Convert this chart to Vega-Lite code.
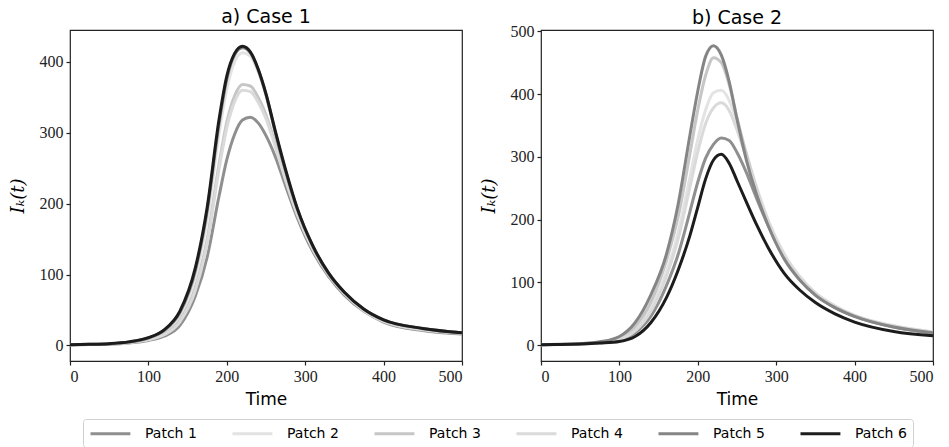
{
  "$schema": "https://vega.github.io/schema/vega-lite/v6.json",
  "padding": {"left": 8, "top": 7, "right": 10, "bottom": 0},
  "background": "white",
  "config": {
    "view": {"stroke": "#222222", "strokeWidth": 1.2},
    "axis": {"grid": false, "domain": false, "labelFont": "Liberation Serif", "labelFontSize": 16, "labelColor": "#222", "tickColor": "#222", "tickSize": 4, "tickWidth": 1.2, "labelPadding": 3, "titleFont": "DejaVu Sans", "titleFontWeight": "normal", "titleColor": "black"},
    "title": {"font": "DejaVu Sans", "fontSize": 19, "fontWeight": "normal", "color": "black"},
    "legend": {"labelFont": "DejaVu Sans", "labelFontSize": 14, "labelColor": "black"}
  },
  "data": {"values": [
    {"c":1,"p":"Patch 1","t":0,"v":1},{"c":1,"p":"Patch 1","t":25,"v":1.2},{"c":1,"p":"Patch 1","t":50,"v":1.8},{"c":1,"p":"Patch 1","t":75,"v":3.5},{"c":1,"p":"Patch 1","t":100,"v":7},{"c":1,"p":"Patch 1","t":120,"v":13},{"c":1,"p":"Patch 1","t":140,"v":28},{"c":1,"p":"Patch 1","t":160,"v":70},{"c":1,"p":"Patch 1","t":175,"v":125},{"c":1,"p":"Patch 1","t":190,"v":210},{"c":1,"p":"Patch 1","t":200,"v":262},{"c":1,"p":"Patch 1","t":210,"v":298},{"c":1,"p":"Patch 1","t":220,"v":318},{"c":1,"p":"Patch 1","t":230,"v":322},{"c":1,"p":"Patch 1","t":240,"v":314},{"c":1,"p":"Patch 1","t":250,"v":296},{"c":1,"p":"Patch 1","t":262,"v":266},{"c":1,"p":"Patch 1","t":275,"v":225},{"c":1,"p":"Patch 1","t":290,"v":180},{"c":1,"p":"Patch 1","t":310,"v":132},{"c":1,"p":"Patch 1","t":330,"v":97},{"c":1,"p":"Patch 1","t":350,"v":71},{"c":1,"p":"Patch 1","t":375,"v":48},{"c":1,"p":"Patch 1","t":400,"v":33},{"c":1,"p":"Patch 1","t":450,"v":21},{"c":1,"p":"Patch 1","t":500,"v":16},
    {"c":1,"p":"Patch 2","t":0,"v":1},{"c":1,"p":"Patch 2","t":25,"v":1.4},{"c":1,"p":"Patch 2","t":50,"v":2.3},{"c":1,"p":"Patch 2","t":75,"v":4.5},{"c":1,"p":"Patch 2","t":100,"v":10},{"c":1,"p":"Patch 2","t":120,"v":19},{"c":1,"p":"Patch 2","t":140,"v":42},{"c":1,"p":"Patch 2","t":160,"v":98},{"c":1,"p":"Patch 2","t":175,"v":178},{"c":1,"p":"Patch 2","t":190,"v":298},{"c":1,"p":"Patch 2","t":200,"v":362},{"c":1,"p":"Patch 2","t":210,"v":400},{"c":1,"p":"Patch 2","t":220,"v":413},{"c":1,"p":"Patch 2","t":230,"v":408},{"c":1,"p":"Patch 2","t":240,"v":386},{"c":1,"p":"Patch 2","t":250,"v":352},{"c":1,"p":"Patch 2","t":262,"v":300},{"c":1,"p":"Patch 2","t":275,"v":245},{"c":1,"p":"Patch 2","t":290,"v":191},{"c":1,"p":"Patch 2","t":310,"v":139},{"c":1,"p":"Patch 2","t":330,"v":101},{"c":1,"p":"Patch 2","t":350,"v":74},{"c":1,"p":"Patch 2","t":375,"v":50},{"c":1,"p":"Patch 2","t":400,"v":35},{"c":1,"p":"Patch 2","t":450,"v":23},{"c":1,"p":"Patch 2","t":500,"v":18},
    {"c":1,"p":"Patch 3","t":0,"v":1},{"c":1,"p":"Patch 3","t":25,"v":1.3},{"c":1,"p":"Patch 3","t":50,"v":2},{"c":1,"p":"Patch 3","t":75,"v":4},{"c":1,"p":"Patch 3","t":100,"v":8.5},{"c":1,"p":"Patch 3","t":120,"v":16},{"c":1,"p":"Patch 3","t":140,"v":35},{"c":1,"p":"Patch 3","t":160,"v":82},{"c":1,"p":"Patch 3","t":175,"v":150},{"c":1,"p":"Patch 3","t":190,"v":255},{"c":1,"p":"Patch 3","t":200,"v":315},{"c":1,"p":"Patch 3","t":210,"v":352},{"c":1,"p":"Patch 3","t":220,"v":368},{"c":1,"p":"Patch 3","t":230,"v":366},{"c":1,"p":"Patch 3","t":240,"v":350},{"c":1,"p":"Patch 3","t":250,"v":325},{"c":1,"p":"Patch 3","t":262,"v":284},{"c":1,"p":"Patch 3","t":275,"v":236},{"c":1,"p":"Patch 3","t":290,"v":186},{"c":1,"p":"Patch 3","t":310,"v":136},{"c":1,"p":"Patch 3","t":330,"v":100},{"c":1,"p":"Patch 3","t":350,"v":74},{"c":1,"p":"Patch 3","t":375,"v":50},{"c":1,"p":"Patch 3","t":400,"v":35},{"c":1,"p":"Patch 3","t":450,"v":23},{"c":1,"p":"Patch 3","t":500,"v":18},
    {"c":1,"p":"Patch 4","t":0,"v":1},{"c":1,"p":"Patch 4","t":25,"v":1.3},{"c":1,"p":"Patch 4","t":50,"v":2},{"c":1,"p":"Patch 4","t":75,"v":4},{"c":1,"p":"Patch 4","t":100,"v":8},{"c":1,"p":"Patch 4","t":120,"v":15},{"c":1,"p":"Patch 4","t":140,"v":33},{"c":1,"p":"Patch 4","t":160,"v":78},{"c":1,"p":"Patch 4","t":175,"v":144},{"c":1,"p":"Patch 4","t":190,"v":248},{"c":1,"p":"Patch 4","t":200,"v":307},{"c":1,"p":"Patch 4","t":210,"v":344},{"c":1,"p":"Patch 4","t":220,"v":360},{"c":1,"p":"Patch 4","t":230,"v":358},{"c":1,"p":"Patch 4","t":240,"v":343},{"c":1,"p":"Patch 4","t":250,"v":320},{"c":1,"p":"Patch 4","t":262,"v":280},{"c":1,"p":"Patch 4","t":275,"v":233},{"c":1,"p":"Patch 4","t":290,"v":184},{"c":1,"p":"Patch 4","t":310,"v":135},{"c":1,"p":"Patch 4","t":330,"v":99},{"c":1,"p":"Patch 4","t":350,"v":73},{"c":1,"p":"Patch 4","t":375,"v":49},{"c":1,"p":"Patch 4","t":400,"v":34},{"c":1,"p":"Patch 4","t":450,"v":22},{"c":1,"p":"Patch 4","t":500,"v":17},
    {"c":1,"p":"Patch 5","t":0,"v":1},{"c":1,"p":"Patch 5","t":25,"v":1.5},{"c":1,"p":"Patch 5","t":50,"v":2.4},{"c":1,"p":"Patch 5","t":75,"v":4.8},{"c":1,"p":"Patch 5","t":100,"v":10.5},{"c":1,"p":"Patch 5","t":120,"v":21},{"c":1,"p":"Patch 5","t":140,"v":46},{"c":1,"p":"Patch 5","t":160,"v":106},{"c":1,"p":"Patch 5","t":175,"v":190},{"c":1,"p":"Patch 5","t":190,"v":312},{"c":1,"p":"Patch 5","t":200,"v":376},{"c":1,"p":"Patch 5","t":210,"v":410},{"c":1,"p":"Patch 5","t":220,"v":420},{"c":1,"p":"Patch 5","t":230,"v":413},{"c":1,"p":"Patch 5","t":240,"v":389},{"c":1,"p":"Patch 5","t":250,"v":354},{"c":1,"p":"Patch 5","t":262,"v":300},{"c":1,"p":"Patch 5","t":275,"v":246},{"c":1,"p":"Patch 5","t":290,"v":192},{"c":1,"p":"Patch 5","t":310,"v":139},{"c":1,"p":"Patch 5","t":330,"v":101},{"c":1,"p":"Patch 5","t":350,"v":75},{"c":1,"p":"Patch 5","t":375,"v":51},{"c":1,"p":"Patch 5","t":400,"v":36},{"c":1,"p":"Patch 5","t":450,"v":24},{"c":1,"p":"Patch 5","t":500,"v":18},
    {"c":1,"p":"Patch 6","t":0,"v":1},{"c":1,"p":"Patch 6","t":25,"v":1.5},{"c":1,"p":"Patch 6","t":50,"v":2.5},{"c":1,"p":"Patch 6","t":75,"v":5},{"c":1,"p":"Patch 6","t":100,"v":11},{"c":1,"p":"Patch 6","t":120,"v":22},{"c":1,"p":"Patch 6","t":140,"v":48},{"c":1,"p":"Patch 6","t":160,"v":110},{"c":1,"p":"Patch 6","t":175,"v":195},{"c":1,"p":"Patch 6","t":190,"v":318},{"c":1,"p":"Patch 6","t":200,"v":380},{"c":1,"p":"Patch 6","t":210,"v":412},{"c":1,"p":"Patch 6","t":220,"v":422},{"c":1,"p":"Patch 6","t":230,"v":414},{"c":1,"p":"Patch 6","t":240,"v":390},{"c":1,"p":"Patch 6","t":250,"v":355},{"c":1,"p":"Patch 6","t":262,"v":302},{"c":1,"p":"Patch 6","t":275,"v":248},{"c":1,"p":"Patch 6","t":290,"v":193},{"c":1,"p":"Patch 6","t":310,"v":140},{"c":1,"p":"Patch 6","t":330,"v":102},{"c":1,"p":"Patch 6","t":350,"v":75},{"c":1,"p":"Patch 6","t":375,"v":51},{"c":1,"p":"Patch 6","t":400,"v":36},{"c":1,"p":"Patch 6","t":450,"v":24},{"c":1,"p":"Patch 6","t":500,"v":18},
    {"c":2,"p":"Patch 1","t":0,"v":1},{"c":2,"p":"Patch 1","t":25,"v":1.2},{"c":2,"p":"Patch 1","t":50,"v":2},{"c":2,"p":"Patch 1","t":75,"v":4},{"c":2,"p":"Patch 1","t":100,"v":8.5},{"c":2,"p":"Patch 1","t":120,"v":20},{"c":2,"p":"Patch 1","t":140,"v":46},{"c":2,"p":"Patch 1","t":160,"v":95},{"c":2,"p":"Patch 1","t":175,"v":145},{"c":2,"p":"Patch 1","t":190,"v":213},{"c":2,"p":"Patch 1","t":200,"v":260},{"c":2,"p":"Patch 1","t":210,"v":298},{"c":2,"p":"Patch 1","t":220,"v":320},{"c":2,"p":"Patch 1","t":230,"v":330},{"c":2,"p":"Patch 1","t":240,"v":326},{"c":2,"p":"Patch 1","t":250,"v":307},{"c":2,"p":"Patch 1","t":262,"v":275},{"c":2,"p":"Patch 1","t":275,"v":234},{"c":2,"p":"Patch 1","t":290,"v":190},{"c":2,"p":"Patch 1","t":310,"v":140},{"c":2,"p":"Patch 1","t":330,"v":105},{"c":2,"p":"Patch 1","t":350,"v":80},{"c":2,"p":"Patch 1","t":375,"v":60},{"c":2,"p":"Patch 1","t":400,"v":46},{"c":2,"p":"Patch 1","t":450,"v":29},{"c":2,"p":"Patch 1","t":500,"v":19},
    {"c":2,"p":"Patch 2","t":0,"v":1},{"c":2,"p":"Patch 2","t":25,"v":1.3},{"c":2,"p":"Patch 2","t":50,"v":2.2},{"c":2,"p":"Patch 2","t":75,"v":4.5},{"c":2,"p":"Patch 2","t":100,"v":10},{"c":2,"p":"Patch 2","t":120,"v":25},{"c":2,"p":"Patch 2","t":140,"v":58},{"c":2,"p":"Patch 2","t":160,"v":117},{"c":2,"p":"Patch 2","t":175,"v":180},{"c":2,"p":"Patch 2","t":190,"v":268},{"c":2,"p":"Patch 2","t":200,"v":328},{"c":2,"p":"Patch 2","t":210,"v":375},{"c":2,"p":"Patch 2","t":220,"v":402},{"c":2,"p":"Patch 2","t":230,"v":406},{"c":2,"p":"Patch 2","t":240,"v":390},{"c":2,"p":"Patch 2","t":250,"v":355},{"c":2,"p":"Patch 2","t":262,"v":306},{"c":2,"p":"Patch 2","t":275,"v":252},{"c":2,"p":"Patch 2","t":290,"v":199},{"c":2,"p":"Patch 2","t":310,"v":146},{"c":2,"p":"Patch 2","t":330,"v":110},{"c":2,"p":"Patch 2","t":350,"v":84},{"c":2,"p":"Patch 2","t":375,"v":63},{"c":2,"p":"Patch 2","t":400,"v":48},{"c":2,"p":"Patch 2","t":450,"v":31},{"c":2,"p":"Patch 2","t":500,"v":21},
    {"c":2,"p":"Patch 3","t":0,"v":1},{"c":2,"p":"Patch 3","t":25,"v":1.4},{"c":2,"p":"Patch 3","t":50,"v":2.3},{"c":2,"p":"Patch 3","t":75,"v":5},{"c":2,"p":"Patch 3","t":100,"v":12},{"c":2,"p":"Patch 3","t":120,"v":30},{"c":2,"p":"Patch 3","t":140,"v":68},{"c":2,"p":"Patch 3","t":160,"v":135},{"c":2,"p":"Patch 3","t":175,"v":205},{"c":2,"p":"Patch 3","t":190,"v":305},{"c":2,"p":"Patch 3","t":200,"v":375},{"c":2,"p":"Patch 3","t":210,"v":430},{"c":2,"p":"Patch 3","t":220,"v":458},{"c":2,"p":"Patch 3","t":230,"v":450},{"c":2,"p":"Patch 3","t":240,"v":415},{"c":2,"p":"Patch 3","t":250,"v":362},{"c":2,"p":"Patch 3","t":262,"v":304},{"c":2,"p":"Patch 3","t":275,"v":248},{"c":2,"p":"Patch 3","t":290,"v":195},{"c":2,"p":"Patch 3","t":310,"v":142},{"c":2,"p":"Patch 3","t":330,"v":107},{"c":2,"p":"Patch 3","t":350,"v":82},{"c":2,"p":"Patch 3","t":375,"v":61},{"c":2,"p":"Patch 3","t":400,"v":47},{"c":2,"p":"Patch 3","t":450,"v":30},{"c":2,"p":"Patch 3","t":500,"v":20},
    {"c":2,"p":"Patch 4","t":0,"v":1},{"c":2,"p":"Patch 4","t":25,"v":1.3},{"c":2,"p":"Patch 4","t":50,"v":2.1},{"c":2,"p":"Patch 4","t":75,"v":4.3},{"c":2,"p":"Patch 4","t":100,"v":9.5},{"c":2,"p":"Patch 4","t":120,"v":23},{"c":2,"p":"Patch 4","t":140,"v":54},{"c":2,"p":"Patch 4","t":160,"v":110},{"c":2,"p":"Patch 4","t":175,"v":170},{"c":2,"p":"Patch 4","t":190,"v":252},{"c":2,"p":"Patch 4","t":200,"v":308},{"c":2,"p":"Patch 4","t":210,"v":353},{"c":2,"p":"Patch 4","t":220,"v":378},{"c":2,"p":"Patch 4","t":230,"v":386},{"c":2,"p":"Patch 4","t":240,"v":374},{"c":2,"p":"Patch 4","t":250,"v":343},{"c":2,"p":"Patch 4","t":262,"v":298},{"c":2,"p":"Patch 4","t":275,"v":247},{"c":2,"p":"Patch 4","t":290,"v":196},{"c":2,"p":"Patch 4","t":310,"v":144},{"c":2,"p":"Patch 4","t":330,"v":108},{"c":2,"p":"Patch 4","t":350,"v":83},{"c":2,"p":"Patch 4","t":375,"v":62},{"c":2,"p":"Patch 4","t":400,"v":47},{"c":2,"p":"Patch 4","t":450,"v":31},{"c":2,"p":"Patch 4","t":500,"v":21},
    {"c":2,"p":"Patch 5","t":0,"v":1},{"c":2,"p":"Patch 5","t":25,"v":1.5},{"c":2,"p":"Patch 5","t":50,"v":2.5},{"c":2,"p":"Patch 5","t":75,"v":5.5},{"c":2,"p":"Patch 5","t":100,"v":14},{"c":2,"p":"Patch 5","t":120,"v":36},{"c":2,"p":"Patch 5","t":140,"v":80},{"c":2,"p":"Patch 5","t":160,"v":145},{"c":2,"p":"Patch 5","t":175,"v":225},{"c":2,"p":"Patch 5","t":190,"v":335},{"c":2,"p":"Patch 5","t":200,"v":405},{"c":2,"p":"Patch 5","t":210,"v":460},{"c":2,"p":"Patch 5","t":220,"v":477},{"c":2,"p":"Patch 5","t":230,"v":462},{"c":2,"p":"Patch 5","t":240,"v":420},{"c":2,"p":"Patch 5","t":250,"v":360},{"c":2,"p":"Patch 5","t":262,"v":295},{"c":2,"p":"Patch 5","t":275,"v":240},{"c":2,"p":"Patch 5","t":290,"v":190},{"c":2,"p":"Patch 5","t":310,"v":138},{"c":2,"p":"Patch 5","t":330,"v":104},{"c":2,"p":"Patch 5","t":350,"v":80},{"c":2,"p":"Patch 5","t":375,"v":60},{"c":2,"p":"Patch 5","t":400,"v":46},{"c":2,"p":"Patch 5","t":450,"v":29},{"c":2,"p":"Patch 5","t":500,"v":20},
    {"c":2,"p":"Patch 6","t":0,"v":1},{"c":2,"p":"Patch 6","t":25,"v":1.2},{"c":2,"p":"Patch 6","t":50,"v":2},{"c":2,"p":"Patch 6","t":75,"v":3.5},{"c":2,"p":"Patch 6","t":100,"v":6},{"c":2,"p":"Patch 6","t":120,"v":14},{"c":2,"p":"Patch 6","t":140,"v":36},{"c":2,"p":"Patch 6","t":160,"v":76},{"c":2,"p":"Patch 6","t":175,"v":120},{"c":2,"p":"Patch 6","t":190,"v":175},{"c":2,"p":"Patch 6","t":200,"v":220},{"c":2,"p":"Patch 6","t":210,"v":265},{"c":2,"p":"Patch 6","t":220,"v":295},{"c":2,"p":"Patch 6","t":230,"v":304},{"c":2,"p":"Patch 6","t":240,"v":290},{"c":2,"p":"Patch 6","t":250,"v":262},{"c":2,"p":"Patch 6","t":262,"v":228},{"c":2,"p":"Patch 6","t":275,"v":192},{"c":2,"p":"Patch 6","t":290,"v":155},{"c":2,"p":"Patch 6","t":310,"v":115},{"c":2,"p":"Patch 6","t":330,"v":88},{"c":2,"p":"Patch 6","t":350,"v":68},{"c":2,"p":"Patch 6","t":375,"v":50},{"c":2,"p":"Patch 6","t":400,"v":37},{"c":2,"p":"Patch 6","t":450,"v":22},{"c":2,"p":"Patch 6","t":500,"v":15}
  ]},
  "resolve": {"scale": {"color": "shared", "strokeWidth": "shared"}, "legend": {"color": "shared"}},
  "spacing": 15,
  "hconcat": [
    {
      "width": 392, "height": 331,
      "title": {"text": "a) Case 1", "offset": 3},
      "transform": [{"filter": "datum.c === 1"}],
      "mark": {"type": "line", "interpolate": "monotone", "clip": true},
      "encoding": {
        "x": {"field": "t", "type": "quantitative", "scale": {"domain": [0, 500], "nice": false}, "axis": {"values": [0, 100, 200, 300, 400, 500], "title": "Time", "titleFontSize": 17, "titlePadding": 7}},
        "y": {"field": "v", "type": "quantitative", "scale": {"domain": [-22, 445], "nice": false, "zero": false}, "axis": {"values": [0, 100, 200, 300, 400], "title": "Iₖ(t)", "titleFont": "DejaVu Serif", "titleFontStyle": "italic", "titleFontSize": 18, "titlePadding": 12}},
        "color": {"field": "p", "type": "nominal", "scale": {"domain": ["Patch 1", "Patch 2", "Patch 3", "Patch 4", "Patch 5", "Patch 6"], "range": ["#8f8f8f", "#e3e3e3", "#c6c6c6", "#dadada", "#858585", "#1c1c1c"]},
          "legend": {"title": null, "orient": "none", "legendX": 13, "legendY": 389, "direction": "horizontal", "columns": 6, "symbolType": "M-1,0H4.7", "symbolStrokeWidth": 3, "symbolSize": 196, "labelOffset": 39, "columnPadding": 29, "padding": 6, "strokeColor": "#d0d0d0", "cornerRadius": 3}},
        "strokeWidth": {"field": "p", "type": "nominal", "scale": {"domain": ["Patch 1", "Patch 2", "Patch 3", "Patch 4", "Patch 5", "Patch 6"], "range": [3, 3, 3, 3, 3, 4.5]}, "legend": null}
      }
    },
    {
      "width": 392, "height": 331,
      "title": {"text": "b) Case 2", "offset": -5},
      "transform": [{"filter": "datum.c === 2"}],
      "mark": {"type": "line", "interpolate": "monotone", "clip": true},
      "encoding": {
        "x": {"field": "t", "type": "quantitative", "scale": {"domain": [0, 500], "nice": false}, "axis": {"values": [0, 100, 200, 300, 400, 500], "title": "Time", "titleFontSize": 17, "titlePadding": 7}},
        "y": {"field": "v", "type": "quantitative", "scale": {"domain": [-25, 502], "nice": false, "zero": false}, "axis": {"values": [0, 100, 200, 300, 400, 500], "title": "Iₖ(t)", "titleFont": "DejaVu Serif", "titleFontStyle": "italic", "titleFontSize": 18, "titlePadding": 12}},
        "color": {"field": "p", "type": "nominal", "scale": {"domain": ["Patch 1", "Patch 2", "Patch 3", "Patch 4", "Patch 5", "Patch 6"], "range": ["#8f8f8f", "#e3e3e3", "#c6c6c6", "#dadada", "#858585", "#1c1c1c"]}},
        "strokeWidth": {"field": "p", "type": "nominal", "scale": {"domain": ["Patch 1", "Patch 2", "Patch 3", "Patch 4", "Patch 5", "Patch 6"], "range": [3, 3, 3, 3, 3, 4.5]}, "legend": null}
      }
    }
  ]
}
